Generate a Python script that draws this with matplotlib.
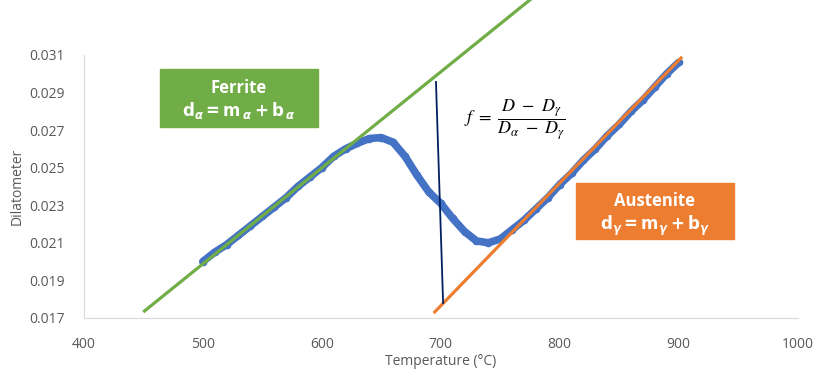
import matplotlib
matplotlib.use("Agg")
from matplotlib import pyplot as plt
from matplotlib.patches import Rectangle

plt.rcParams['font.family'] = ['Open Sans', 'DejaVu Sans']

# measured dilatometer curve
temp = [500, 510, 520, 530, 540, 550, 560, 570, 580, 590,
        600, 610, 620, 630, 640, 650, 660, 670, 680, 690,
        700, 710, 720, 730, 740, 750, 760, 770, 780, 790,
        800, 810, 820, 830, 840, 850, 860, 870, 880, 890, 900]
dil = [0.0200, 0.0205, 0.0209, 0.0214, 0.0219, 0.0224, 0.0229, 0.0234, 0.0240, 0.0245,
       0.0250, 0.0256, 0.0260, 0.0263, 0.02655, 0.0266, 0.02635, 0.0256, 0.0246, 0.0237,
       0.0231, 0.0223, 0.0216, 0.0211, 0.0210, 0.0212, 0.0217, 0.0222, 0.0228, 0.0234,
       0.0241, 0.0247, 0.0254, 0.0260, 0.0267, 0.0273, 0.0280, 0.0286, 0.0293, 0.0300, 0.0306]

# linear fits
ferrite_x = [451, 775]
ferrite_y = [0.01737, 0.03393]
austenite_x = [695, 902]
austenite_y = [0.01732, 0.03084]
lever_x = [696, 702]
lever_y = [0.02956, 0.0178]

grey = "#595959"

fig = plt.figure(figsize=(8.3, 3.84), dpi=100)
ax = fig.add_axes([0.101, 0.172, 0.860, 0.685])

ax.plot(temp, dil, color="#4472C4", lw=5.5, marker="o", ms=4.5, solid_capstyle="round", zorder=2)
ax.plot(ferrite_x, ferrite_y, color="#70AD47", lw=2.3, clip_on=False, zorder=3)
ax.plot(austenite_x, austenite_y, color="#ED7D31", lw=2.3, clip_on=False, zorder=3)
ax.plot(lever_x, lever_y, color="#002060", lw=1.3, zorder=4)

# label boxes
ax.add_patch(Rectangle((464, 0.02717), 132.6, 0.00309, color="#70AD47", zorder=5))
ax.text(530, 0.02926, "Ferrite", color="white", fontsize=12, fontweight="bold",
        ha="center", va="center", zorder=6)
ax.text(530, 0.02805, r"$\mathbf{d_{\boldsymbol{\alpha}} = m_{\,\boldsymbol{\alpha}} + b_{\,\boldsymbol{\alpha}}}$",
        color="white", fontsize=12, ha="center", va="center", zorder=6, math_fontfamily="dejavusans")

ax.add_patch(Rectangle((813.4, 0.02121), 132.8, 0.00298, color="#ED7D31", zorder=5))
ax.text(880, 0.02325, "Austenite", color="white", fontsize=12, fontweight="bold",
        ha="center", va="center", zorder=6)
ax.text(880, 0.02190, r"$\mathbf{d_{\boldsymbol{\gamma}} = m_{\boldsymbol{\gamma}} + b_{\boldsymbol{\gamma}}}$",
        color="white", fontsize=12, ha="center", va="center", zorder=6, math_fontfamily="dejavusans")

ax.text(762, 0.02754, r"$f\ =\ \dfrac{D\ -\ D_{\gamma}}{D_{\alpha}\ -\ D_{\gamma}}$",
        fontsize=13, ha="center", va="center", color="black", math_fontfamily="stix")

ax.set_xlim(400, 1000)
ax.set_ylim(0.017, 0.031)
ax.set_xticks([400, 500, 600, 700, 800, 900, 1000])
ax.set_yticks([0.017, 0.019, 0.021, 0.023, 0.025, 0.027, 0.029, 0.031])
ax.yaxis.set_major_formatter(matplotlib.ticker.FormatStrFormatter("%.3f"))
ax.tick_params(length=0, labelsize=10, labelcolor=grey, pad=14)
for s in ["top", "right"]:
    ax.spines[s].set_visible(False)
for s in ["left", "bottom"]:
    ax.spines[s].set_color("#D9D9D9")
ax.set_xlabel("Temperature (°C)", fontsize=10, color=grey, labelpad=1)
ax.set_ylabel("Dilatometer", fontsize=10, color=grey, labelpad=3)

fig.savefig("out.png", dpi=100)
